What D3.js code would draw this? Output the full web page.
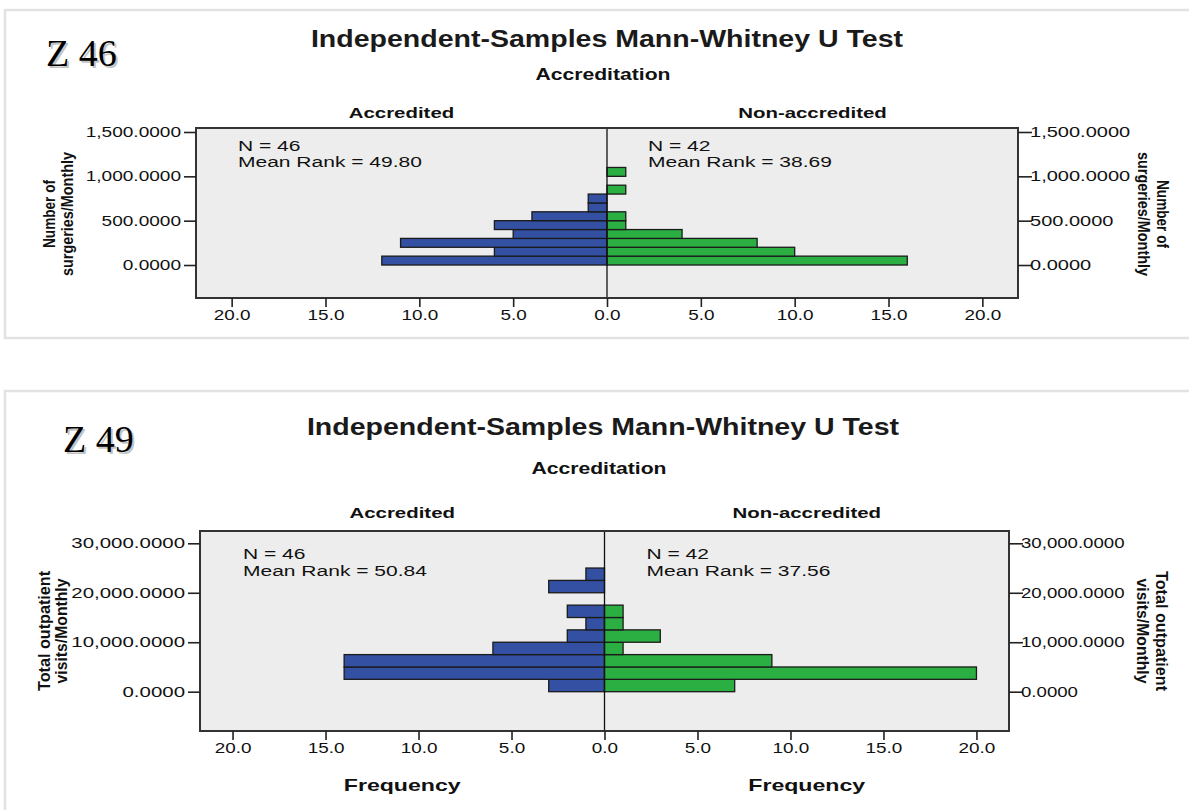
<!DOCTYPE html>
<html>
<head>
<meta charset="utf-8">
<script src="https://cdn.jsdelivr.net/npm/d3@7"></script>
<style>
  body { margin: 0; background: #fff; }
  svg { display: block; }
  text { font-family: "Liberation Sans", Arial, sans-serif; fill: #111; }
</style>
</head>
<body>
<svg id="chart" width="1189" height="810"></svg>
<script>
const groups = ["Accredited", "Non-accredited"];
const freqTicks = [0, 5, 10, 15, 20];

// Z 46 : Number of surgeries / month, bins of 100
const surgeryBins = [0, 100, 200, 300, 400, 500, 600, 700, 800, 900, 1000];
const surgeryBinWidth = 100;
const surgeryAccredited = [12, 6, 11, 5, 6, 4, 1, 1, 0, 0, 0];
const surgeryNonAccredited = [16, 10, 8, 4, 1, 1, 0, 0, 1, 0, 1];
const surgeryN = [46, 42];
const surgeryMeanRank = ["49.80", "38.69"];
const surgeryTicks = [0, 500, 1000, 1500];

// Z 49 : Total outpatient visits / month, bins of 2500
const visitBins = [0, 2500, 5000, 7500, 10000, 12500, 15000, 17500, 20000, 22500];
const visitBinWidth = 2500;
const visitAccredited = [3, 14, 14, 6, 2, 1, 2, 0, 3, 1];
const visitNonAccredited = [7, 20, 9, 1, 3, 1, 1, 0, 0, 0];
const visitN = [46, 42];
const visitMeanRank = ["50.84", "37.56"];
const visitTicks = [0, 10000, 20000, 30000];

const svg = d3.select("#chart");

// SPSS output here is stretched sideways, so widen text to match
function stretch(sel, k) {
    sel.each(function () {
        const w = this.getComputedTextLength();
        d3.select(this).attr("textLength", w * k).attr("lengthAdjust", "spacingAndGlyphs");
    });
}

function drawChart(cfg) {
    const g = svg.append("g");

    // light frame around the pasted figure
    g.append("path")
        .attr("d", cfg.frame)
        .attr("fill", "none")
        .attr("stroke", "#e2e2e2")
        .attr("stroke-width", 2.5);

    // hand label with shadow
    g.append("text").attr("x", cfg.zx + 2).attr("y", cfg.zy + 2)
        .style("font-family", "'Liberation Serif', 'Times New Roman', serif")
        .style("font-size", "38px").style("fill", "#c4c4c4").text(cfg.zlabel);
    g.append("text").attr("x", cfg.zx).attr("y", cfg.zy)
        .style("font-family", "'Liberation Serif', 'Times New Roman', serif")
        .style("font-size", "38px").style("fill", "#000").text(cfg.zlabel);

    const y = d3.scaleLinear().domain(cfg.yDomain).range([cfg.bottom, cfg.top]);
    const xL = d3.scaleLinear().domain([0, cfg.xMax]).range([(cfg.left + cfg.right) / 2, cfg.left]);
    const xR = d3.scaleLinear().domain([0, cfg.xMax]).range([(cfg.left + cfg.right) / 2, cfg.right]);
    const cx = xL(0);

    // titles
    const title = g.append("text").attr("x", cfg.titleX).attr("y", cfg.titleY)
        .attr("text-anchor", "middle").style("font-size", "23px").style("font-weight", "bold")
        .style("fill", "#1a1a1a")
        .text("Independent-Samples Mann-Whitney U Test");
    stretch(title, 1.24);
    const sub = g.append("text").attr("x", cfg.titleX - 4).attr("y", cfg.subY)
        .attr("text-anchor", "middle").style("font-size", "16px").style("font-weight", "bold")
        .text("Accreditation");
    stretch(sub, 1.32);
    const panels = g.selectAll(".panel").data(groups).join("text")
        .attr("x", (d, i) => i === 0 ? (cfg.left + cx) / 2 : (cx + cfg.right) / 2)
        .attr("y", cfg.panelY)
        .attr("text-anchor", "middle").style("font-size", "15px").style("font-weight", "bold")
        .text(d => d);
    stretch(panels, 1.36);

    // plot area
    g.append("rect")
        .attr("x", cfg.left).attr("y", cfg.top)
        .attr("width", cfg.right - cfg.left).attr("height", cfg.bottom - cfg.top)
        .attr("fill", "#ededed");

    // bars
    const left = cfg.bins.map((b, i) => ({ b: b, c: cfg.acc[i] })).filter(d => d.c > 0);
    const right = cfg.bins.map((b, i) => ({ b: b, c: cfg.non[i] })).filter(d => d.c > 0);

    g.selectAll(".barL").data(left).join("rect")
        .attr("x", d => xL(d.c))
        .attr("y", d => y(d.b + cfg.binWidth))
        .attr("width", d => xL(0) - xL(d.c))
        .attr("height", d => y(d.b) - y(d.b + cfg.binWidth))
        .attr("fill", "#3350a3")
        .attr("stroke", "#1b1b1b").attr("stroke-width", 1.3);

    g.selectAll(".barR").data(right).join("rect")
        .attr("x", xR(0))
        .attr("y", d => y(d.b + cfg.binWidth))
        .attr("width", d => xR(d.c) - xR(0))
        .attr("height", d => y(d.b) - y(d.b + cfg.binWidth))
        .attr("fill", "#2caf42")
        .attr("stroke", "#1b1b1b").attr("stroke-width", 1.3);

    // centre line
    g.append("line")
        .attr("x1", cx).attr("x2", cx).attr("y1", cfg.top).attr("y2", cfg.bottom)
        .attr("stroke", "#111").attr("stroke-width", 1.3);

    g.append("rect")
        .attr("x", cfg.left).attr("y", cfg.top)
        .attr("width", cfg.right - cfg.left).attr("height", cfg.bottom - cfg.top)
        .attr("fill", "none").attr("stroke", "#333").attr("stroke-width", 2);

    // N and mean rank
    [0, 1].forEach(function (i) {
        const tx = i === 0 ? cfg.left + cfg.statsDx : cx + cfg.statsDx - 1;
        const t1 = g.append("text").attr("x", tx).attr("y", cfg.top + cfg.statsDy[0])
            .style("font-size", "14px").text("N = " + cfg.n[i]);
        const t2 = g.append("text").attr("x", tx).attr("y", cfg.top + cfg.statsDy[1])
            .style("font-size", "14px").text("Mean Rank = " + cfg.rank[i]);
        stretch(t1, 1.5);
        stretch(t2, 1.5);
    });

    // axes
    const fmtY = d3.format(",.4f");
    const fmtX = d3.format(".1f");

    const ayL = g.append("g").attr("transform", `translate(${cfg.left},0)`)
        .call(d3.axisLeft(y).tickValues(cfg.ticks).tickFormat(fmtY).tickSize(12).tickPadding(3));
    const ayR = g.append("g").attr("transform", `translate(${cfg.right},0)`)
        .call(d3.axisRight(y).tickValues(cfg.ticks).tickFormat(fmtY).tickSize(14).tickPadding(-2));
    const axL = g.append("g").attr("transform", `translate(0,${cfg.bottom})`)
        .call(d3.axisBottom(xL).tickValues(freqTicks).tickFormat(fmtX).tickSize(9).tickPadding(3));
    const axR = g.append("g").attr("transform", `translate(0,${cfg.bottom})`)
        .call(d3.axisBottom(xR).tickValues(freqTicks.filter(d => d > 0)).tickFormat(fmtX).tickSize(9).tickPadding(3));

    [ayL, ayR, axL, axR].forEach(function (a) {
        a.select(".domain").remove();
        a.selectAll(".tick line").attr("stroke", "#222").attr("stroke-width", 1.6);
        a.selectAll(".tick text").style("font-size", "14px").attr("fill", "#222");
    });
    stretch(ayL.selectAll(".tick text"), cfg.yTickK[0]);
    stretch(ayR.selectAll(".tick text"), cfg.yTickK[1]);
    stretch(axL.selectAll(".tick text"), 1.35);
    stretch(axR.selectAll(".tick text"), 1.35);

    // axis titles, two lines each side
    cfg.yTitle.forEach(function (line, i) {
        g.append("text")
            .attr("transform", `translate(${cfg.yTitleL[i]},${cfg.yTitleC}) rotate(-90)`)
            .attr("text-anchor", "middle")
            .attr("textLength", cfg.yTitleLen[i]).attr("lengthAdjust", "spacingAndGlyphs")
            .style("font-family", "'Liberation Sans Narrow', 'Arial Narrow', sans-serif")
            .style("font-size", "16px").style("font-weight", "bold")
            .text(line);
        g.append("text")
            .attr("transform", `translate(${cfg.yTitleR[i]},${cfg.yTitleC}) rotate(90)`)
            .attr("text-anchor", "middle")
            .attr("textLength", cfg.yTitleLen[i]).attr("lengthAdjust", "spacingAndGlyphs")
            .style("font-family", "'Liberation Sans Narrow', 'Arial Narrow', sans-serif")
            .style("font-size", "16px").style("font-weight", "bold")
            .text(line);
    });

    if (cfg.freqY) {
        const f = g.selectAll(".freq").data(groups).join("text")
            .attr("x", (d, i) => i === 0 ? (cfg.left + cx) / 2 : (cx + cfg.right) / 2)
            .attr("y", cfg.freqY)
            .attr("text-anchor", "middle").style("font-size", "17px").style("font-weight", "bold")
            .text("Frequency");
        stretch(f, 1.36);
    }
}

drawChart({
    frame: "M1192,10 H5 V338 H1192",
    zlabel: "Z 46", zx: 46, zy: 66,
    titleX: 607, titleY: 47, subY: 80, panelY: 118,
    left: 196, right: 1018, top: 128, bottom: 298,
    yDomain: [-372, 1545], xMax: 21.9,
    bins: surgeryBins, binWidth: surgeryBinWidth,
    acc: surgeryAccredited, non: surgeryNonAccredited,
    n: surgeryN, rank: surgeryMeanRank, ticks: surgeryTicks,
    statsDx: 42, statsDy: [23, 39], yTickK: [1.36, 1.43],
    yTitle: ["Number of", "surgeries/Monthly"],
    yTitleL: [55, 73], yTitleR: [1157, 1138], yTitleC: 214, yTitleLen: [68, 124],
    freqY: null
});

drawChart({
    frame: "M1192,391 H5 V815",
    zlabel: "Z 49", zx: 63, zy: 452,
    titleX: 603, titleY: 435, subY: 474, panelY: 518,
    left: 200, right: 1009, top: 531, bottom: 731,
    yDomain: [-7945, 32487], xMax: 21.75,
    bins: visitBins, binWidth: visitBinWidth,
    acc: visitAccredited, non: visitNonAccredited,
    n: visitN, rank: visitMeanRank, ticks: visitTicks,
    statsDx: 43, statsDy: [28, 45], yTickK: [1.46, 1.33],
    yTitle: ["Total outpatient", "visits/Monthly"],
    yTitleL: [50, 67], yTitleR: [1156, 1137], yTitleC: 631, yTitleLen: [120, 105],
    freqY: 791
});
</script>
</body>
</html>
